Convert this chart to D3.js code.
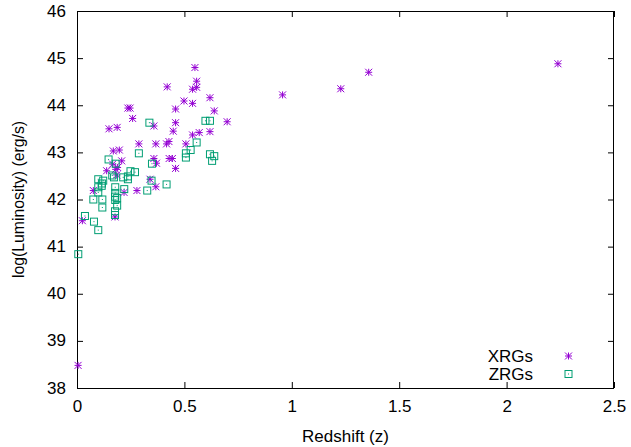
<!DOCTYPE html>
<html>
<head>
<meta charset="utf-8">
<script src="https://cdn.jsdelivr.net/npm/d3@7"></script>
<style>
html,body{margin:0;padding:0;background:#fff;}
svg{display:block;}
text{font-family:"Liberation Sans",Arial,Helvetica,sans-serif;fill:#000;}
</style>
</head>
<body>
<svg id="chart" width="631" height="447"></svg>
<script>
// XRGs: redshift (z) and log(Luminosity)
const xrgZ = [0.005,0.549,0.557,0.557,0.538,0.42,0.498,0.538,0.619,0.237,0.247,0.459,0.639,0.259,0.149,0.187,0.358,0.459,0.448,0.699,0.569,0.619,0.538,0.288,0.367,0.417,0.428,0.507,0.169,0.197,0.358,0.37,0.429,0.444,0.459,0.208,0.166,0.138,0.18,0.189,0.185,0.34,0.367,0.279,0.219,0.076,0.177,0.025,0.957,1.228,1.358,2.239];
const xrgL = [38.48,44.80,44.51,44.38,44.34,44.39,44.09,44.04,44.16,43.94,43.94,43.92,43.88,43.72,43.50,43.53,43.56,43.63,43.45,43.65,43.42,43.44,43.37,43.18,43.18,43.18,43.23,43.18,43.03,43.05,42.87,42.77,42.87,42.87,42.66,42.82,42.75,42.61,42.64,42.68,42.52,42.43,42.27,42.19,42.15,42.19,41.63,41.55,44.22,44.35,44.70,44.88];
// ZRGs
const zrgZ = [0.337,0.598,0.619,0.557,0.529,0.507,0.507,0.619,0.639,0.629,0.288,0.349,0.147,0.18,0.249,0.27,0.164,0.172,0.215,0.237,0.237,0.099,0.122,0.116,0.115,0.347,0.417,0.327,0.22,0.178,0.178,0.099,0.099,0.076,0.118,0.177,0.187,0.178,0.187,0.118,0.177,0.177,0.037,0.079,0.099,0.006];
const zrgL = [43.63,43.67,43.67,43.21,43.05,42.98,42.89,42.96,42.92,42.82,42.98,42.76,42.85,42.76,42.60,42.58,42.51,42.47,42.47,42.49,42.43,42.43,42.40,42.34,42.29,42.40,42.32,42.19,42.22,42.26,42.14,42.26,42.15,42.00,42.00,42.06,42.03,41.99,41.87,41.83,41.75,41.67,41.65,41.53,41.35,40.84];
const xTicks = [0,0.5,1,1.5,2,2.5];
const yTicks = [38,39,40,41,42,43,44,45,46];
const seriesNames = ["XRGs","ZRGs"];
const xLabel = "Redshift (z)";
const yLabel = "log(Luminosity) (erg/s)";

const W = 631, H = 447;
const m = {left:77, right:17, top:11, bottom:59};
const svg = d3.select("#chart");
const x = d3.scaleLinear().domain([0,2.5]).range([m.left, W-m.right]);
const y = d3.scaleLinear().domain([38,46]).range([H-m.bottom, m.top]);
const purple = "#9400d3", green = "#009e73";
const fs = "17px";
const vs = 0.93;

// axes with inward ticks (all four sides)
const gB = svg.append("g").attr("transform",`translate(0,${H-m.bottom})`)
  .call(d3.axisBottom(x).tickValues(xTicks).tickFormat(d3.format("")).tickSize(-6).tickPadding(14));
const gT = svg.append("g").attr("transform",`translate(0,${m.top})`)
  .call(d3.axisTop(x).tickValues(xTicks).tickFormat("").tickSize(-6));
const gL = svg.append("g").attr("transform",`translate(${m.left},0)`)
  .call(d3.axisLeft(y).tickValues(yTicks).tickFormat(d3.format("d")).tickSize(-6).tickPadding(11));
const gR = svg.append("g").attr("transform",`translate(${W-m.right},0)`)
  .call(d3.axisRight(y).tickValues(yTicks).tickFormat("").tickSize(-6));
[gB,gT,gL,gR].forEach(g=>{
  g.select(".domain").remove();
  g.selectAll(".tick line").attr("stroke","#000").attr("stroke-width",1);
  g.selectAll(".tick text").attr("font-size",fs).attr("font-family",null).attr("fill","#000")
    .attr("transform",`scale(1,${vs})`);
});
// border
svg.append("rect").attr("x",m.left+0.5).attr("y",m.top+0.5)
  .attr("width",W-m.right-m.left-1).attr("height",H-m.bottom-m.top)
  .attr("fill","none").attr("stroke","#000").attr("stroke-width",1);

// axis labels
svg.append("text").attr("transform",`translate(${(m.left+W-m.right)/2},442) scale(1,${vs})`)
  .attr("text-anchor","middle").attr("font-size",fs).text(xLabel);
svg.append("text").attr("transform",`translate(24,${(m.top+H-m.bottom)/2}) scale(1,${vs}) rotate(-90)`)
  .attr("text-anchor","middle").attr("font-size",fs).text(yLabel);

// marker drawers
const r = 3.5;
function star(g, cx, cy, col){
  const p = `M${cx-r},${cy}H${cx+r}M${cx},${cy-r}V${cy+r}M${cx-r},${cy-r}L${cx+r},${cy+r}M${cx-r},${cy+r}L${cx+r},${cy-r}`;
  g.append("path").attr("d",p).attr("stroke",col).attr("stroke-width",1).attr("fill","none");
}
function sq(g, cx, cy, col){
  g.append("rect").attr("x",cx-r).attr("y",cy-r).attr("width",2*r).attr("height",2*r)
    .attr("fill","none").attr("stroke",col).attr("stroke-width",1);
  g.append("rect").attr("x",cx-0.5).attr("y",cy-0.5).attr("width",1).attr("height",1).attr("fill",col);
}

const gx = svg.append("g");
xrgZ.forEach((z,i)=>star(gx, x(z), y(xrgL[i]), purple));
const gz = svg.append("g");
zrgZ.forEach((z,i)=>sq(gz, x(z), y(zrgL[i]), green));

// legend
const lg = svg.append("g");
[[seriesNames[0],356,star,purple],[seriesNames[1],374,sq,green]].forEach(([t,ly,fn,col])=>{
  lg.append("text").attr("transform",`translate(533,${ly+6}) scale(1,${vs})`)
    .attr("text-anchor","end").attr("font-size",fs).text(t);
  fn(lg, 568.5, ly, col);
});
</script>
</body>
</html>
